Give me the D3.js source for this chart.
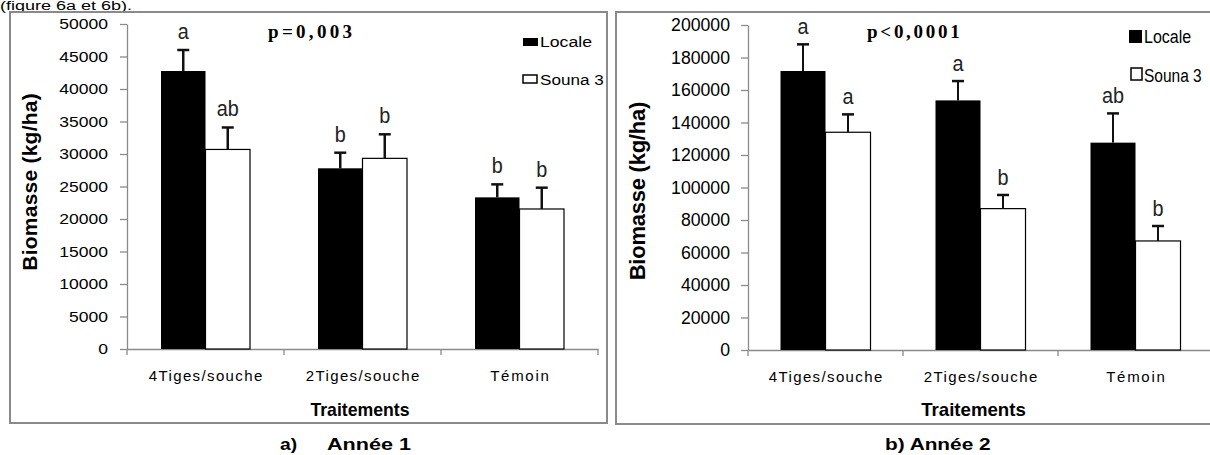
<!DOCTYPE html>
<html><head><meta charset="utf-8">
<script src="https://cdn.jsdelivr.net/npm/d3@7"></script>
<style>body{margin:0;background:#fff} svg{display:block}</style>
</head><body>
<svg id="c" width="1210" height="455"></svg>
<script>
// ---- data ----
const categories = ["4Tiges/souche", "2Tiges/souche", "Témoin"];
const series = ["Locale", "Souna 3"];
const y1Locale = [42770, 27800, 23330];
const y1LocaleErr = [3230, 2400, 2000];
const y1Souna = [30700, 29330, 21540];
const y1SounaErr = [3380, 3700, 3280];
const y1LocaleLetters = ["a", "b", "b"];
const y1SounaLetters = ["ab", "b", "b"];
const y2Locale = [171700, 153600, 127600];
const y2LocaleErr = [16400, 11900, 18000];
const y2Souna = [134000, 87000, 67100];
const y2SounaErr = [11000, 8400, 9200];
const y2LocaleLetters = ["a", "a", "ab"];
const y2SounaLetters = ["a", "b", "b"];
const y1Ticks = [0, 5000, 10000, 15000, 20000, 25000, 30000, 35000, 40000, 45000, 50000];
const y2Ticks = [0, 20000, 40000, 60000, 80000, 100000, 120000, 140000, 160000, 180000, 200000];
const pTexts = ["p=0,003", "p<0,0001"];
const captions = [["a)", "Année 1"], ["b) Année 2"]];
const yTitle = "Biomasse (kg/ha)";
const xTitle = "Traitements";
const topNote = "(figure 6a et 6b).";

// ---- layout ----
const svg = d3.select("#c");
const SANS = "'Liberation Sans', Arial, sans-serif";
const SERIF = "'Liberation Serif', 'Times New Roman', serif";
const GRAY = "#8a8a8a";

function fit(sel, kx, adj) {
  sel.each(function () {
    const L = this.getComputedTextLength();
    this.setAttribute("textLength", L * kx);
    this.setAttribute("lengthAdjust", adj || "spacingAndGlyphs");
  });
  return sel;
}

const panels = [
  {
    frame: [10, 12, 597, 411], x0: 127, x1: 598, yTop: 24, yZero: 349, max: 50000, ticks: y1Ticks,
    locale: y1Locale, localeErr: y1LocaleErr, souna: y1Souna, sounaErr: y1SounaErr,
    lL: y1LocaleLetters, sL: y1SounaLetters, pad: 0.764,
    tickFs: 15.5, tickKx: 1.13, tickPad: 12, errW: 2.5, letterOff: 11,
    yt: { x: 37, y: 182, fs: 21, kx: 1.02 },
    xt: { x: 360, y: 416, kx: 0.93 },
    p: { x: 268, y: 38, kx: 1.31, text: pTexts[0] },
    leg: { sq: [[523, 38, 15, 8], [523, 75, 14, 8]], tx: 540, ty: [46.7, 85], fs: 14, kx: [1.26, 1.22] },
    caps: [{ x: 280, text: captions[0][0], kx: 1.2 }, { x: 327, text: captions[0][1], kx: 1.35 }]
  },
  {
    frame: [616, 12, 600, 412], x0: 748, x1: 1213, yTop: 25, yZero: 350, max: 200000, ticks: y2Ticks,
    locale: y2Locale, localeErr: y2LocaleErr, souna: y2Souna, sounaErr: y2SounaErr,
    lL: y2LocaleLetters, sL: y2SounaLetters, pad: 0.722,
    tickFs: 18, tickKx: 0.98, tickPad: 11, errW: 2, letterOff: 10,
    yt: { x: 645, y: 191, fs: 22, kx: 0.98 },
    xt: { x: 973.5, y: 416, kx: 0.98 },
    p: { x: 867, y: 38, kx: 1.26, text: pTexts[1] },
    leg: { sq: [[1129, 30, 13, 13], [1131, 68, 11, 12]], tx: 1144, ty: [43, 81.7], fs: 18, kx: [0.89, 0.86] },
    caps: [{ x: 885, text: captions[1][0], kx: 1.3 }]
  }
];

// top note (thin strip at the very top)
fit(svg.append("text").attr("x", 0).attr("y", 9.5).attr("font-family", SANS)
  .attr("font-size", 12).attr("fill", "#000").text(topNote), 1.5);

panels.forEach(P => {
  const g = svg.append("g");
  // frame
  g.append("rect").attr("x", P.frame[0]).attr("y", P.frame[1]).attr("width", P.frame[2]).attr("height", P.frame[3])
    .attr("fill", "none").attr("stroke", GRAY).attr("stroke-width", 2);

  const y = d3.scaleLinear().domain([0, P.max]).range([P.yZero, P.yTop]);
  const x = d3.scaleBand().domain(categories).range([P.x0, P.x1]).padding(0);
  const xs = d3.scaleBand().domain(series).range([0, x.bandwidth()]).paddingInner(0).paddingOuter(P.pad);

  // y axis
  const ya = g.append("g").attr("transform", `translate(${P.x0},0)`)
    .call(d3.axisLeft(y).tickValues(P.ticks).tickSize(7).tickSizeOuter(0).tickPadding(P.tickPad).tickFormat(d => String(d)));
  ya.select(".domain").attr("stroke", GRAY).attr("stroke-width", 1.3);
  ya.selectAll(".tick line").attr("stroke", GRAY).attr("stroke-width", 1.3);
  ya.selectAll(".tick text").attr("font-family", SANS).attr("font-size", P.tickFs).attr("fill", "#000");
  fit(ya.selectAll(".tick text"), P.tickKx);

  // x axis
  const xa = g.append("g").attr("transform", `translate(0,${P.yZero})`)
    .call(d3.axisBottom(x).tickSize(0).tickSizeOuter(0).tickPadding(21));
  xa.select(".domain").attr("stroke", GRAY).attr("stroke-width", 1.3);
  xa.selectAll(".tick text").attr("font-family", SANS).attr("font-size", 15).attr("fill", "#000").attr("dy", "0.71em");
  fit(xa.selectAll(".tick text"), 1.17, "spacing");
  const bounds = categories.map(c => x(c)).concat([x.range()[1]]);
  g.selectAll(".bt").data(bounds).join("line").attr("class", "bt")
    .attr("x1", d => d).attr("x2", d => d).attr("y1", P.yZero).attr("y2", P.yZero + 6)
    .attr("stroke", GRAY).attr("stroke-width", 1.3);

  // bars
  const rows = categories.map((c, i) => [
    { c, s: series[0], v: P.locale[i], e: P.localeErr[i], l: P.lL[i] },
    { c, s: series[1], v: P.souna[i], e: P.sounaErr[i], l: P.sL[i] }
  ]).flat();
  const bx = d => x(d.c) + xs(d.s);
  g.selectAll(".bar").data(rows).join("rect").attr("class", "bar")
    .attr("x", bx).attr("width", xs.bandwidth())
    .attr("y", d => y(d.v)).attr("height", d => y(0) - y(d.v))
    .attr("fill", d => d.s === series[0] ? "#000" : "#fff")
    .attr("stroke", "#000").attr("stroke-width", d => d.s === series[0] ? 0 : 1.2);

  // error bars (upper)
  const cx = d => bx(d) + xs.bandwidth() / 2;
  g.selectAll(".eb").data(rows).join("line").attr("class", "eb")
    .attr("x1", cx).attr("x2", cx).attr("y1", d => y(d.v)).attr("y2", d => y(d.v + d.e))
    .attr("stroke", "#111").attr("stroke-width", P.errW);
  g.selectAll(".ec").data(rows).join("line").attr("class", "ec")
    .attr("x1", d => cx(d) - 6).attr("x2", d => cx(d) + 6).attr("y1", d => y(d.v + d.e)).attr("y2", d => y(d.v + d.e))
    .attr("stroke", "#111").attr("stroke-width", 2.5);

  // letters
  const lt = g.selectAll(".lt").data(rows).join("text").attr("class", "lt")
    .attr("x", cx).attr("y", d => y(d.v + d.e) - P.letterOff)
    .attr("text-anchor", "middle").attr("font-family", SANS).attr("font-size", 22).attr("fill", "#222")
    .text(d => d.l);
  fit(lt, 0.9);

  // y title
  fit(g.append("text").attr("transform", `translate(${P.yt.x},${P.yt.y}) rotate(-90)`)
    .attr("text-anchor", "middle").attr("font-family", SANS).attr("font-weight", "bold")
    .attr("font-size", P.yt.fs).attr("fill", "#000").text(yTitle), P.yt.kx, "spacing");

  // x title
  fit(g.append("text").attr("x", P.xt.x).attr("y", P.xt.y).attr("text-anchor", "middle")
    .attr("font-family", SANS).attr("font-weight", "bold").attr("font-size", 19).attr("fill", "#000")
    .text(xTitle), P.xt.kx);

  // p value
  fit(g.append("text").attr("x", P.p.x).attr("y", P.p.y).attr("font-family", SERIF).attr("font-weight", "bold")
    .attr("font-size", 19).attr("fill", "#000").text(P.p.text), P.p.kx, "spacing");

  // legend
  series.forEach((s, i) => {
    const q = P.leg.sq[i];
    g.append("rect").attr("x", q[0]).attr("y", q[1]).attr("width", q[2]).attr("height", q[3])
      .attr("fill", i === 0 ? "#000" : "#fff").attr("stroke", "#000").attr("stroke-width", i === 0 ? 0 : 1.5);
    fit(g.append("text").attr("x", P.leg.tx).attr("y", P.leg.ty[i]).attr("font-family", SANS)
      .attr("font-size", P.leg.fs).attr("fill", "#000").text(s), P.leg.kx[i]);
  });

  // caption
  P.caps.forEach(cp => {
    fit(svg.append("text").attr("x", cp.x).attr("y", 450).attr("font-family", SANS).attr("font-weight", "bold")
      .attr("font-size", 16).attr("fill", "#000").text(cp.text), cp.kx);
  });
});
</script>
</body></html>
